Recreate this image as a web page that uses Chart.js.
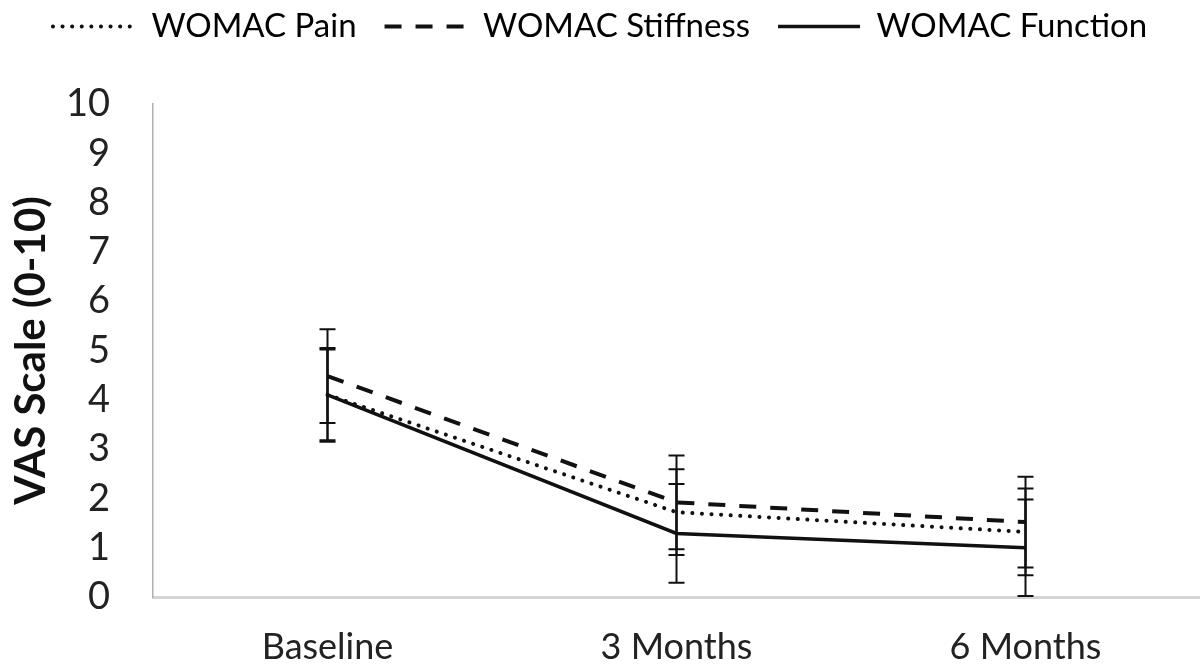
<!DOCTYPE html>
<html>
<head>
<meta charset="utf-8">
<script src="https://cdn.jsdelivr.net/npm/chart.js@4.4.1/dist/chart.umd.min.js"></script>
<style>
  html, body { margin: 0; padding: 0; background: #fff; }
  #wrap { width: 1200px; height: 668px; }
</style>
</head>
<body>
<div id="wrap"><canvas id="womacChart"></canvas></div>
<script>
// Data
const timepoints = ['Baseline', '3 Months', '6 Months'];
const painMean = [4.1, 1.72, 1.32];
const painErr = [0.95, 0.87, 0.88];
const stiffnessMean = [4.48, 1.92, 1.52];
const stiffnessErr = [0.95, 0.95, 0.92];
const functionMean = [4.1, 1.29, 1.0];
const functionErr = [0.92, 1.0, 0.98];
const yTicks = [0, 1, 2, 3, 4, 5, 6, 7, 8, 9, 10];

const errorsByDataset = [painErr, stiffnessErr, functionErr];

// Draws the vertical error bars with caps
const errorBars = {
    id: 'errorBars',
    afterDatasetsDraw(chart) {
        const ctx = chart.ctx;
        const xs = chart.scales.x;
        const ys = chart.scales.y;
        ctx.save();
        ctx.strokeStyle = '#111';
        ctx.lineWidth = 2;
        ctx.setLineDash([]);
        chart.data.datasets.forEach((ds, d) => {
            ds.data.forEach((v, i) => {
                const err = errorsByDataset[d][i];
                const x = xs.getPixelForValue(i);
                const top = ys.getPixelForValue(v + err);
                const bot = ys.getPixelForValue(Math.max(0, v - err));
                ctx.beginPath();
                ctx.moveTo(x, top);
                ctx.lineTo(x, bot);
                ctx.moveTo(x - 8, top);
                ctx.lineTo(x + 8, top);
                ctx.moveTo(x - 8, bot);
                ctx.lineTo(x + 8, bot);
                ctx.stroke();
            });
        });
        ctx.restore();
    }
};

// Leaves a gap between the legend and the plot
const legendGap = {
    id: 'legendGap',
    afterInit(chart) {
        const legend = chart.legend;
        const fit = legend.fit;
        legend.fit = function () {
            fit.call(this);
            this.height += 51;
        };
    }
};

new Chart(document.getElementById('womacChart'), {
    type: 'line',
    data: {
        labels: timepoints,
        datasets: [
            {
                label: 'WOMAC Pain',
                data: painMean,
                borderColor: '#111',
                borderWidth: 4,
                borderDash: [0.1, 9.5],
                borderCapStyle: 'round',
                pointRadius: 0,
                fill: false
            },
            {
                label: 'WOMAC Stiffness',
                data: stiffnessMean,
                borderColor: '#111',
                borderWidth: 4,
                borderDash: [17, 14],
                pointRadius: 0,
                fill: false
            },
            {
                label: 'WOMAC Function',
                data: functionMean,
                borderColor: '#111',
                borderWidth: 3.5,
                pointRadius: 0,
                fill: false
            }
        ]
    },
    options: {
        responsive: true,
        maintainAspectRatio: false,
        animation: false,
        layout: { padding: { top: -18, right: 0, bottom: 0, left: 0 } },
        plugins: {
            legend: {
                position: 'top',
                align: 'center',
                labels: {
                    usePointStyle: true,
                    pointStyleWidth: 82,
                    color: '#111',
                    font: { family: 'Lato', size: 33 },
                    padding: 28,
                    // line samples keep the dataset dash patterns
                    generateLabels: chart => chart.data.datasets.map((ds, i) => ({
                        text: ds.label,
                        datasetIndex: i,
                        fillStyle: ds.borderColor,
                        strokeStyle: ds.borderColor,
                        lineWidth: ds.borderWidth,
                        lineDash: ds.borderDash || [],
                        lineCap: ds.borderCapStyle || 'butt',
                        pointStyle: 'line',
                        hidden: false
                    }))
                }
            },
            tooltip: { enabled: false }
        },
        scales: {
            x: {
                offset: true,
                grid: { display: false, drawTicks: false },
                border: { color: '#d4d4d4', width: 3 },
                ticks: {
                    color: '#222',
                    font: { family: 'Lato', size: 36 },
                    padding: 29
                },
                afterFit: s => { s.height = 71; }
            },
            y: {
                min: 0,
                max: 10,
                afterBuildTicks: scale => {
                    scale.ticks = yTicks.map(v => ({ value: v }));
                },
                afterFit: s => { s.width = 153; },
                grid: { display: false, drawTicks: false },
                border: { color: '#b0b0b0', width: 1.5 },
                ticks: {
                    color: '#222',
                    font: { family: 'Lato', size: 38 },
                    padding: 43
                },
                title: {
                    display: true,
                    text: 'VAS Scale (0-10)',
                    color: '#111',
                    font: { family: 'Lato', size: 42, weight: 'bold' },
                    padding: { top: 6, bottom: 0 }
                }
            }
        }
    },
    plugins: [errorBars, legendGap]
});
</script>
</body>
</html>
